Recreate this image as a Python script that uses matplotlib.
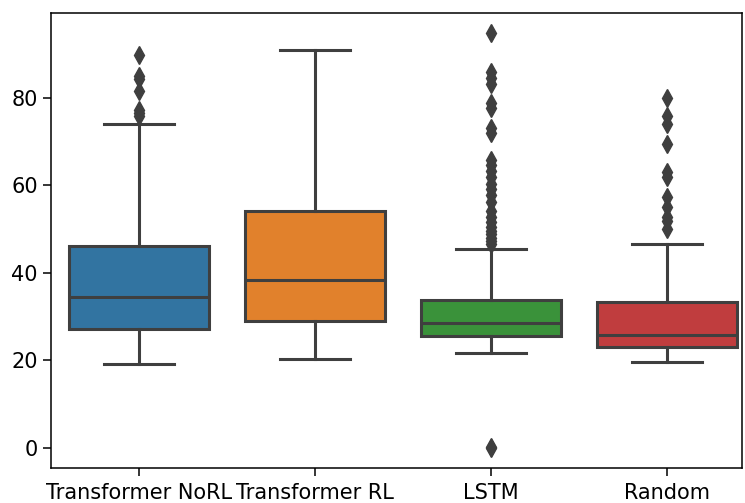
import matplotlib
matplotlib.use("Agg")
import matplotlib.pyplot as plt

categories = ["Transformer NoRL", "Transformer RL", "LSTM", "Random"]
colors = ["#3274a1", "#e1812c", "#3a923a", "#c03d3e"]
q1 = [27.2, 28.9, 25.5, 23.1]
med = [34.5, 38.4, 28.5, 25.7]
q3 = [46.1, 54.1, 33.8, 33.3]
whislo = [19.2, 20.2, 21.6, 19.5]
whishi = [74.0, 90.9, 45.5, 46.5]
fliers_norl = [89.6, 85.0, 84.2, 81.4, 77.2, 76.5, 75.8]
fliers_rl = []
fliers_lstm = [94.8, 85.8, 84.5, 83.0, 78.8, 77.5, 73.0, 71.8, 65.8, 64.5, 63.3,
               61.8, 60.2, 59.0, 57.8, 56.2, 54.0, 52.8, 51.5, 50.5, 49.5, 48.8,
               48.0, 47.3, 46.6, 0.3, 0.0]
fliers_random = [79.8, 75.8, 74.0, 69.3, 63.0, 61.8, 57.2, 55.0, 52.8, 51.8, 50.0]
fliers = [fliers_norl, fliers_rl, fliers_lstm, fliers_random]

stats = []
for i, c in enumerate(categories):
    stats.append(dict(label=c, q1=q1[i], med=med[i], q3=q3[i],
                      whislo=whislo[i], whishi=whishi[i], fliers=fliers[i]))

fig = plt.figure(figsize=(7.45, 5.03), dpi=100)
ax = fig.add_axes([51 / 745, 35 / 503, 691 / 745, 455 / 503])
lc = "#3f3f3f"
lw = 2.2
bp = ax.bxp(stats, positions=range(len(categories)), widths=0.8, patch_artist=True,
            boxprops=dict(edgecolor=lc, linewidth=lw),
            medianprops=dict(color=lc, linewidth=lw),
            whiskerprops=dict(color=lc, linewidth=lw),
            capprops=dict(color=lc, linewidth=lw),
            flierprops=dict(marker="d", markerfacecolor=lc, markeredgecolor=lc,
                            markersize=9, linestyle="none"),
            capwidths=0.4)
for patch, col in zip(bp["boxes"], colors):
    patch.set_facecolor(col)

ax.set_xlim(-0.5, 3.426)
ax.set_ylim(-4.6, 99.3)
ax.set_yticks([0, 20, 40, 60, 80])
ax.set_xticks(range(len(categories)))
ax.set_xticklabels(categories)
ax.tick_params(labelsize=15, length=6, width=1.1)
ax.tick_params(axis="x", pad=5)
for s in ax.spines.values():
    s.set_linewidth(1.1)
fig.savefig("out.png", dpi=100)
